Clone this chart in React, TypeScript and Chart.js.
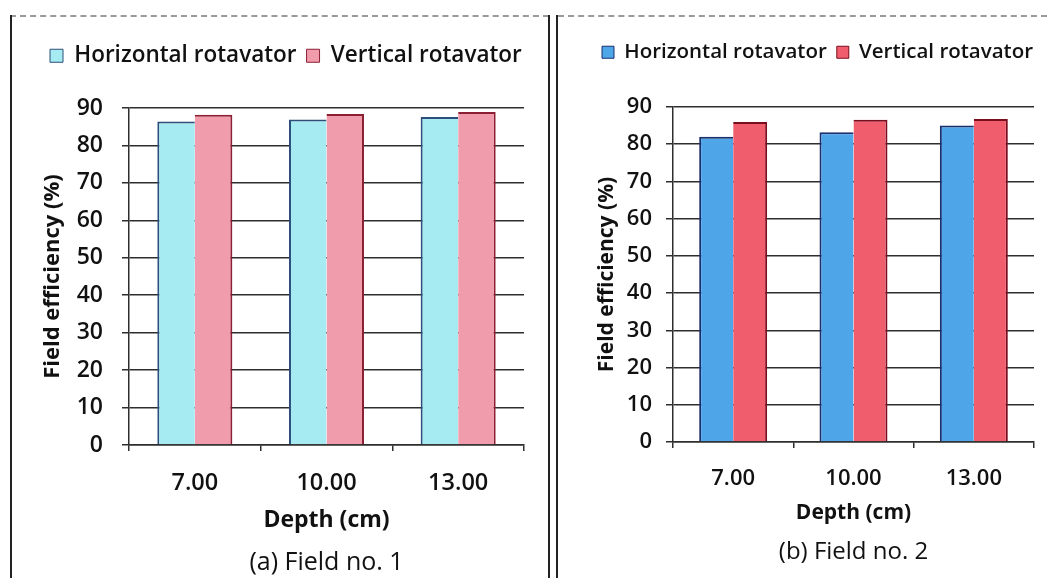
import React, { useEffect, useRef } from 'react';
import { Chart, registerables } from 'chart.js';

Chart.register(...registerables);

// ---- data ----
const depthLabels = ['7.00', '10.00', '13.00'];
const seriesNames = ['Horizontal rotavator', 'Vertical rotavator'];
const field1Horizontal = [86.4, 86.9, 87.6];
const field1Vertical = [88.2, 88.4, 88.9];
const field2Horizontal = [82.0, 83.2, 85.0];
const field2Vertical = [86.0, 86.6, 86.8];
const yTickValues = [0, 10, 20, 30, 40, 50, 60, 70, 80, 90];
const yAxisTitle = 'Field efficiency (%)';
const xAxisTitle = 'Depth (cm)';
const captions = ['(a) Field no. 1', '(b) Field no. 2'];

const FONT = "'Open Sans', 'Noto Sans', sans-serif";
const INK = '#111111';
const GRID = '#2e2e2e';

type PanelSpec = {
  left: number;
  top: number;
  width: number;
  height: number;
  horizontal: number[];
  vertical: number[];
  caption: string;
  hFill: string;
  hBorder: string;
  vFill: string;
  vBorder: string;
  padTop: number;
  padLeft: number;
  padRight: number;
  legendFont: number;
  legendBox: number;
  legendHeight: number;
  yWidth: number;
  yTickFont: number;
  yTickPad: number;
  yTitleFont: number;
  yTitlePad: number;
  xHeight: number;
  xTickFont: number;
  xTickPad: number;
  xTitleFont: number;
  xTitlePad: number;
  captionFont: number;
  captionPadTop: number;
  captionPadBottom: number;
  categoryPct: number;
};

const panels: PanelSpec[] = [
  {
    left: 10, top: 15, width: 538, height: 563,
    horizontal: field1Horizontal, vertical: field1Vertical, caption: captions[0],
    hFill: '#a6ebf1', hBorder: '#2b4f7a', vFill: '#f19cac', vBorder: '#8c1f33',
    padTop: 19.5, padLeft: 30, padRight: 24,
    legendFont: 22.5, legendBox: 13, legendHeight: 73.5,
    yWidth: 89, yTickFont: 23, yTickPad: 19, yTitleFont: 22, yTitlePad: 0,
    xHeight: 99, xTickFont: 23.5, xTickPad: 18.6, xTitleFont: 23, xTitlePad: 9.5,
    captionFont: 25, captionPadTop: 4, captionPadBottom: 0,
    categoryPct: 0.57,
  },
  {
    left: 557, top: 15, width: 490, height: 563,
    horizontal: field2Horizontal, vertical: field2Vertical, caption: captions[1],
    hFill: '#4ea6e8', hBorder: '#1b2f6e', vFill: '#f05e6d', vBorder: '#7a0e1f',
    padTop: 17, padLeft: 35, padRight: 13,
    legendFont: 20.5, legendBox: 12, legendHeight: 75,
    yWidth: 81, yTickFont: 22, yTickPad: 14, yTitleFont: 21, yTitlePad: 2.4,
    xHeight: 91.6, xTickFont: 22, xTickPad: 17.5, xTitleFont: 21, xTitlePad: 8,
    captionFont: 24, captionPadTop: 4, captionPadBottom: 11.6,
    categoryPct: 0.565,
  },
];

function FieldChart({ spec }: { spec: PanelSpec }) {
  const canvasRef = useRef<HTMLCanvasElement | null>(null);

  useEffect(() => {
    const canvas = canvasRef.current;
    if (!canvas) return;
    const rowWidth = spec.width;

    // keeps the legend on one row and reserves the gap between legend and plot
    const legendBlock = {
      id: 'legendBlock',
      beforeInit(chart: any) {
        const legend = chart.legend;
        if (!legend) return;
        const baseFit = legend.fit;
        legend.fit = function () {
          this.maxWidth = Math.max(this.maxWidth, rowWidth);
          baseFit.call(this);
          this.height = spec.legendHeight;
        };
      },
      afterLayout(chart: any) {
        const legend = chart.legend;
        if (legend) legend.right = Math.max(legend.right, legend.left + rowWidth);
      },
    };

    const chart = new Chart(canvas, {
      type: 'bar',
      data: {
        labels: depthLabels,
        datasets: [
          {
            label: seriesNames[0],
            data: spec.horizontal,
            backgroundColor: spec.hFill,
            borderColor: spec.hBorder,
            borderWidth: { top: 2, left: 2, right: 0, bottom: 0 },
            barPercentage: 1,
            categoryPercentage: spec.categoryPct,
          },
          {
            label: seriesNames[1],
            data: spec.vertical,
            backgroundColor: spec.vFill,
            borderColor: spec.vBorder,
            borderWidth: { top: 2, right: 2, left: 0, bottom: 0 },
            barPercentage: 1,
            categoryPercentage: spec.categoryPct,
          },
        ],
      },
      options: {
        responsive: false,
        animation: false,
        layout: { padding: { top: spec.padTop, left: spec.padLeft, right: spec.padRight, bottom: 0 } },
        scales: {
          x: {
            offset: true,
            grid: {
              display: true,
              drawOnChartArea: false,
              drawTicks: true,
              tickLength: 6,
              offset: true,
              color: GRID,
              lineWidth: 1.5,
            },
            border: { display: true, color: GRID, width: 1.5 },
            ticks: {
              color: INK,
              font: { family: FONT, size: spec.xTickFont, weight: '600' },
              padding: spec.xTickPad,
              maxRotation: 0,
              autoSkip: false,
            },
            title: {
              display: true,
              text: xAxisTitle,
              color: INK,
              font: { family: FONT, size: spec.xTitleFont, weight: 'bold' },
              padding: { top: 0, bottom: spec.xTitlePad },
            },
            afterFit(scale: any) {
              scale.height = spec.xHeight;
            },
          },
          y: {
            min: 0,
            max: 90,
            grid: { color: GRID, lineWidth: 1.5, drawTicks: true, tickLength: 7 },
            border: { display: true, color: GRID, width: 1.5 },
            ticks: {
              color: INK,
              font: { family: FONT, size: spec.yTickFont, weight: '600' },
              padding: spec.yTickPad,
            },
            afterBuildTicks(scale: any) {
              scale.ticks = yTickValues.map((v) => ({ value: v }));
            },
            title: {
              display: true,
              text: yAxisTitle,
              color: INK,
              font: { family: FONT, size: spec.yTitleFont, weight: 'bold' },
              padding: { top: spec.yTitlePad, bottom: 0 },
            },
            afterFit(scale: any) {
              scale.width = spec.yWidth;
            },
          },
        },
        plugins: {
          legend: {
            position: 'top',
            align: 'start',
            labels: {
              boxWidth: spec.legendBox,
              boxHeight: spec.legendBox,
              padding: 10,
              color: INK,
              font: { family: FONT, size: spec.legendFont, weight: '600' },
            },
          },
          title: {
            display: true,
            text: spec.caption,
            position: 'bottom',
            fullSize: false,
            color: INK,
            font: { family: FONT, size: spec.captionFont, weight: 'normal' },
            padding: { top: spec.captionPadTop, bottom: spec.captionPadBottom },
          },
          tooltip: { enabled: false },
        },
      } as any,
      plugins: [legendBlock],
    });

    return () => chart.destroy();
  }, [spec]);

  return (
    <canvas
      ref={canvasRef}
      width={spec.width}
      height={spec.height}
      style={{ position: 'absolute', left: spec.left, top: spec.top, width: spec.width, height: spec.height }}
    />
  );
}

export default function App() {
  return (
    <div
      style={{
        position: 'fixed',
        left: 0,
        top: 0,
        width: 1052,
        height: 578,
        background: '#ffffff',
        overflow: 'hidden',
      }}
    >
      {/* panel frames */}
      <div style={{ position: 'absolute', left: 10, top: 15, width: 539, height: 580, borderTop: '2px dashed #9a9a9a', boxSizing: 'border-box' }} />
      <div style={{ position: 'absolute', left: 10, top: 15, width: 2, height: 563, background: '#222' }} />
      <div style={{ position: 'absolute', left: 548, top: 15, width: 2, height: 563, background: '#222' }} />
      <div style={{ position: 'absolute', left: 556, top: 15, width: 2, height: 563, background: '#222' }} />
      <div style={{ position: 'absolute', left: 558, top: 15, width: 489, height: 2, borderTop: '2px dashed #9a9a9a', boxSizing: 'border-box' }} />
      {panels.map((spec, i) => (
        <FieldChart key={i} spec={spec} />
      ))}
    </div>
  );
}
